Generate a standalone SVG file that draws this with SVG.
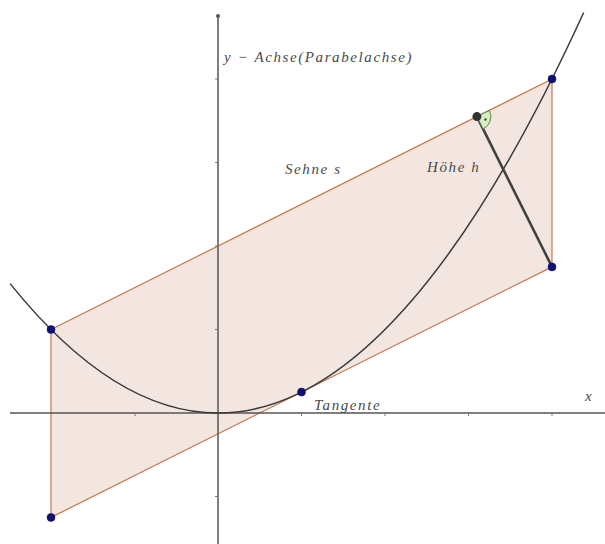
<svg xmlns="http://www.w3.org/2000/svg" width="605" height="544" viewBox="0 0 605 544">
<style>
.axis{stroke:#555;stroke-width:1.5;fill:none}
.tick{stroke:#777;stroke-width:1}
.edge{stroke:#c8784a;stroke-width:1.2;fill:none}
.lbl{font-family:"Liberation Serif","DejaVu Serif",serif;font-style:italic;font-size:15px;letter-spacing:1.6px;fill:#4a4a4a}
.pt{fill:#10107a;stroke:#0a0a50;stroke-width:0.5}
</style>
<rect width="605" height="544" fill="#fff"/>
<g id="parallelogram">
<polygon points="51,329.5 552,79 552,266.9 51,517.4" fill="#f3e6e1" stroke="none"/>
<line class="edge" x1="51" y1="329.5" x2="552" y2="79"/>
<line class="edge" x1="51" y1="517.4" x2="552" y2="266.9"/>
<line class="edge" x1="51" y1="329.5" x2="51" y2="517.4"/>
<line class="edge" x1="552" y1="79" x2="552" y2="266.9"/>
</g>
<g id="axes">
<line class="axis" x1="10" y1="413" x2="605" y2="413"/>
<line class="axis" x1="218" y1="15" x2="218" y2="544"/>
<circle cx="218" cy="16" r="2" fill="#555"/>
<g class="tick">
<line x1="135" y1="413" x2="135" y2="416"/>
<line x1="301.5" y1="413" x2="301.5" y2="416"/>
<line x1="385" y1="413" x2="385" y2="416"/>
<line x1="468.5" y1="413" x2="468.5" y2="416"/>
<line x1="552" y1="413" x2="552" y2="416"/>
<line x1="215" y1="496.5" x2="218" y2="496.5"/>
<line x1="215" y1="329.5" x2="218" y2="329.5"/>
<line x1="215" y1="246" x2="218" y2="246"/>
<line x1="215" y1="162.5" x2="218" y2="162.5"/>
<line x1="215" y1="79" x2="218" y2="79"/>
</g>
</g>
<g id="parabola">
<path d="M10.1,283.6 Q296.9,640.7 583.7,12.5" fill="none" stroke="#3a3a3a" stroke-width="1.5"/>
</g>
<g id="connectors">
<line x1="476.9" y1="116.6" x2="552" y2="266.9" stroke="#404040" stroke-width="2.6"/>
<path d="M476.9,116.6 L489.4,110.4 A14,14 0 0 1 483.2,129.1 Z" fill="#d8ecc8" stroke="#5a8a3a" stroke-width="1"/>
<circle cx="485.5" cy="119.5" r="1.2" fill="#3a5a2a"/>
</g>
<g id="points">
<circle class="pt" cx="51" cy="329.5" r="4"/>
<circle class="pt" cx="552" cy="79" r="4"/>
<circle class="pt" cx="552" cy="266.9" r="4"/>
<circle class="pt" cx="51" cy="517.4" r="4"/>
<circle class="pt" cx="301.5" cy="392.1" r="4"/>
<circle cx="476.9" cy="116.6" r="4.5" fill="#333"/>
</g>
<g id="labels">
<text class="lbl" x="224" y="62">y − Achse(Parabelachse)</text>
<text class="lbl" x="285" y="174">Sehne s</text>
<text class="lbl" x="427" y="172">Höhe h</text>
<text class="lbl" x="314" y="410">Tangente</text>
<text class="lbl" x="585" y="401">x</text>
</g>
</svg>
